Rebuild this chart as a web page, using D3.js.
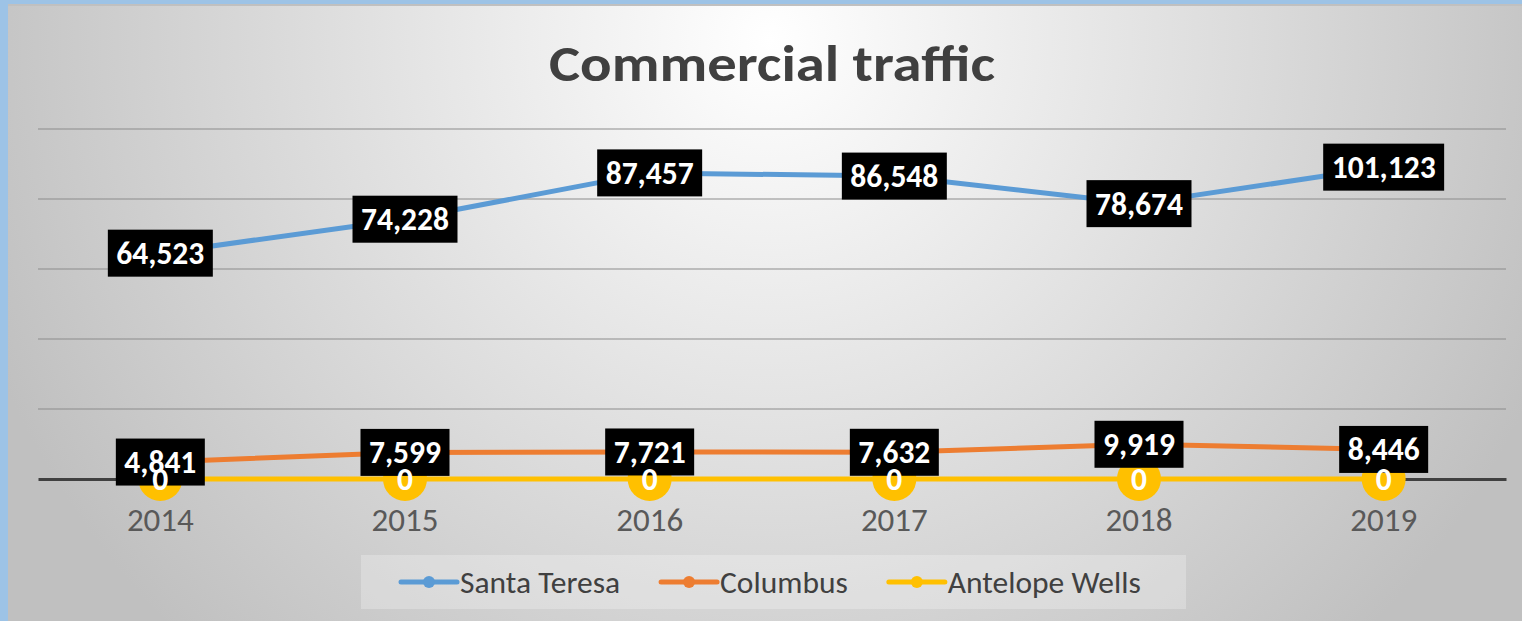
<!DOCTYPE html>
<html>
<head>
<meta charset="utf-8">
<script src="https://cdn.jsdelivr.net/npm/d3@7"></script>
<style>
  html, body { margin: 0; padding: 0; background: #9DC3E6; }
  svg { display: block; }
</style>
</head>
<body>
<svg id="chart" width="1522" height="621"></svg>
<script>
// ---------- data ----------
const years = ["2014", "2015", "2016", "2017", "2018", "2019"];
// plotted positions (2019 point sits near 89,100 although its label reads 101,123)
const santaTeresa = [64523, 74228, 87457, 86548, 78674, 89100];
const santaTeresaLabels = ["64,523", "74,228", "87,457", "86,548", "78,674", "101,123"];
const columbus = [4841, 7599, 7721, 7632, 9919, 8446];
const columbusLabels = ["4,841", "7,599", "7,721", "7,632", "9,919", "8,446"];
const antelopeWells = [0, 0, 0, 0, 0, 0];
const antelopeWellsLabels = ["0", "0", "0", "0", "0", "0"];
const seriesNames = ["Santa Teresa", "Columbus", "Antelope Wells"];
const seriesColors = ["#5B9BD5", "#ED7D31", "#FFC000"];
const yTicks = [0, 20000, 40000, 60000, 80000, 100000];
const title = "Commercial traffic";

// ---------- layout ----------
const W = 1522, H = 621;
const FONT = "Carlito, Lato, 'Open Sans', sans-serif";
const plot = { left: 38, right: 1506, top: 129, bottom: 479 };

const svg = d3.select("#chart");
const defs = svg.append("defs");
const grad = defs.append("radialGradient")
  .attr("id", "bg").attr("gradientUnits", "userSpaceOnUse")
  .attr("cx", 770).attr("cy", 40).attr("r", 840);
grad.append("stop").attr("offset", "0%").attr("stop-color", "#ffffff");
grad.append("stop").attr("offset", "100%").attr("stop-color", "#c0c0c0");

// chart area background (blue frame shows on left/top)
svg.append("rect").attr("x", 8).attr("y", 4).attr("width", W - 8).attr("height", H - 4)
  .attr("fill", "#c0c0c0");
svg.append("rect").attr("x", 8).attr("y", 6).attr("width", W - 8).attr("height", H - 6)
  .attr("fill", "url(#bg)");

// title
svg.append("text")
  .attr("x", 772).attr("y", 81)
  .attr("text-anchor", "middle")
  .attr("font-family", FONT).attr("font-weight", "bold")
  .attr("font-size", 51).attr("fill", "#404040")
  .attr("textLength", 446).attr("lengthAdjust", "spacingAndGlyphs")
  .text(title);

// scales
const x = d3.scaleBand().domain(years).range([plot.left, plot.right]).padding(0);
const cx = d => x(d) + x.bandwidth() / 2;
const y = d3.scaleLinear().domain([0, 100000]).range([plot.bottom, plot.top]);

// gridlines
svg.append("g").selectAll("line").data(yTicks.filter(t => t > 0)).join("line")
  .attr("x1", plot.left).attr("x2", plot.right)
  .attr("y1", d => y(d)).attr("y2", d => y(d))
  .attr("stroke", "#8c8c8c").attr("stroke-opacity", 0.5).attr("stroke-width", 2);

// x axis
const xAxis = svg.append("g").attr("transform", `translate(0,${plot.bottom})`)
  .call(d3.axisBottom(x).tickSize(0).tickPadding(29));
xAxis.select(".domain").attr("stroke", "#404040").attr("stroke-width", 3);
xAxis.selectAll("text")
  .attr("font-family", FONT).attr("font-size", 33).attr("fill", "#595959");

// series
const series = [
  { name: seriesNames[0], values: santaTeresa, labels: santaTeresaLabels, color: seriesColors[0], r: 5, box: true },
  { name: seriesNames[1], values: columbus, labels: columbusLabels, color: seriesColors[1], r: 5, box: true },
  { name: seriesNames[2], values: antelopeWells, labels: antelopeWellsLabels, color: seriesColors[2], r: 22, box: false }
];

const line = d3.line().x((d, i) => cx(years[i])).y(d => y(d));
series.forEach(s => {
  svg.append("path").datum(s.values)
    .attr("d", line).attr("fill", "none")
    .attr("stroke", s.color).attr("stroke-width", 5).attr("stroke-linejoin", "round");
});
series.forEach(s => {
  svg.append("g").selectAll("circle").data(s.values).join("circle")
    .attr("cx", (d, i) => cx(years[i])).attr("cy", d => y(d))
    .attr("r", s.r).attr("fill", s.color);
});

// data labels
series.forEach(s => {
  const g = svg.append("g");
  s.values.forEach((v, i) => {
    const lg = g.append("g");
    const t = lg.append("text")
      .attr("x", cx(years[i])).attr("y", y(v))
      .attr("text-anchor", "middle").attr("dominant-baseline", "central")
      .attr("font-family", FONT).attr("font-weight", "bold")
      .attr("font-size", 31.5).attr("fill", "#ffffff")
      .text(s.labels[i]);
    if (s.box) {
      const bb = t.node().getBBox();
      const bw = bb.width + 17, bh = 47;
      lg.insert("rect", "text")
        .attr("x", cx(years[i]) - bw / 2).attr("y", y(v) - bh / 2)
        .attr("width", bw).attr("height", bh).attr("fill", "#000000");
    }
  });
});

// legend
const legend = svg.append("g");
legend.append("rect").attr("x", 361).attr("y", 555).attr("width", 825).attr("height", 54)
  .attr("fill", "#ffffff").attr("fill-opacity", 0.25);
let lx = 401;
const ly = 582;
series.forEach(s => {
  const item = legend.append("g");
  item.append("line").attr("x1", lx).attr("x2", lx + 56).attr("y1", ly).attr("y2", ly)
    .attr("stroke", s.color).attr("stroke-width", 5).attr("stroke-linecap", "round");
  item.append("circle").attr("cx", lx + 28).attr("cy", ly).attr("r", 6).attr("fill", s.color);
  const t = item.append("text").attr("x", lx + 59).attr("y", ly)
    .attr("dominant-baseline", "central")
    .attr("font-family", FONT).attr("font-size", 31.5).attr("fill", "#404040")
    .text(s.name);
  lx += 59 + t.node().getComputedTextLength() + 41;
});
</script>
</body>
</html>
